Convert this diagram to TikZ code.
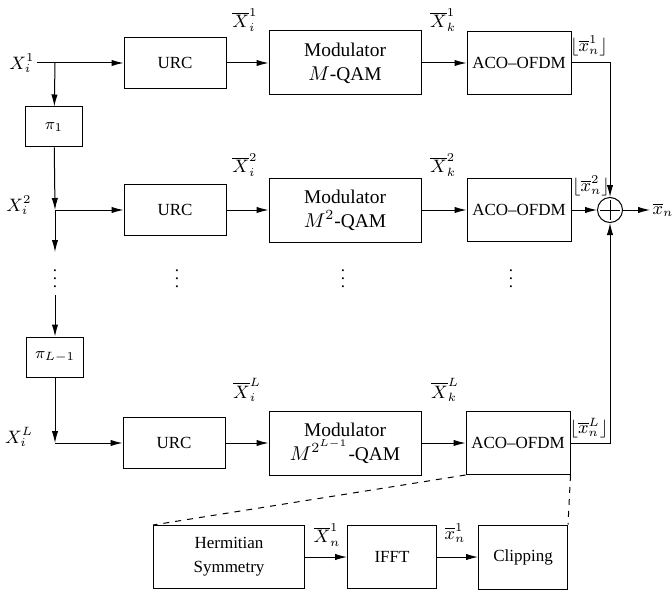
\documentclass[tikz,border=0pt]{standalone}
\usepackage{amsmath,amssymb}
\usepackage{fontspec}
\setmainfont{Liberation Serif}
\usetikzlibrary{arrows.meta}

\begin{document}
\begin{tikzpicture}[x=0.5pt, y=-0.5pt, line width=0.5pt,
	every node/.style={font=\fontsize{8.5}{10}\selectfont},
	>={Latex[length=6pt, width=3.2pt]},
	blk/.style={draw, inner sep=1pt, align=center},
	urcbox/.style={blk, minimum width=51pt, minimum height=25.5pt},
	modbox/.style={blk, minimum width=76pt, minimum height=32pt, font=\fontsize{9.7}{12}\selectfont},
	acobox/.style={blk, minimum width=52pt, minimum height=31.5pt},
	pibox/.style={blk, minimum width=28.5pt, minimum height=20pt},
	lab/.style={font=\fontsize{9}{10}\selectfont, inner sep=1pt}]
	\useasboundingbox (0,0) rectangle (672,593);
	% branches
	\node[urcbox] (urc1) at (175,63) {URC};
	\node[modbox] (mod1) at (345,63) {Modulator\\ $M$-QAM};
	\node[acobox] (aco1) at (519,63) {ACO--OFDM};
	\node[urcbox] (urc2) at (175,210) {URC};
	\node[modbox] (mod2) at (345,210) {Modulator\\ $M^2$-QAM};
	\node[acobox] (aco2) at (519,210) {ACO--OFDM};
	\node[urcbox] (urc3) at (174,443) {URC};
	\node[modbox] (mod3) at (345,443) {Modulator\\ $M^{2^{L-1}}$-QAM};
	\node[acobox] (aco3) at (518,443) {ACO--OFDM};
	\node[pibox] (pi1) at (54,127) {$\pi_1$};
	\node[pibox] (piL) at (55,357) {$\pi_{L-1}$};
	\node[draw, circle, minimum size=12.5pt, inner sep=0pt] (sum) at (610,210) {};
	\draw ([yshift=-1.5pt]sum.north) -- ([yshift=1.5pt]sum.south);
	\draw ([xshift=1.5pt]sum.west) -- ([xshift=-1.5pt]sum.east);
	% input and interleaver chain
	\coordinate (in1) at (37,63);
	\coordinate (br1) at (55,63);
	\coordinate (br2) at (55,210);
	\coordinate (br3) at (55,443);
	\coordinate (cut1) at (55,252);
	\coordinate (cut2) at (55,295);
	\node[lab, anchor=east] at (in1) {$X_i^1$};
	\node[lab] at (19,205) {$X_i^2$};
	\node[lab] at (19,437) {$X_i^L$};
	\draw[->] (in1) -- (urc1);
	\draw[->] (br1) -- (pi1);
	\draw[->] (pi1) -- (br2);
	\draw[->] (br2) -- (urc2);
	\draw[->] (br2) -- (cut1);
	\draw[->] (cut2) -- (piL);
	\draw[->] (piL) -- (br3);
	\draw[->] (br3) -- (urc3);
	\foreach \x/\n in {55/vd0, 177/vd1, 343/vd2, 511/vd3}
		\node (\n) at (\x,273) {$\vdots$};
	% chains
	\draw[->] (urc1) -- (mod1);
	\draw[->] (mod1) -- (aco1);
	\draw[->] (urc2) -- (mod2);
	\draw[->] (mod2) -- (aco2);
	\draw[->] (urc3) -- (mod3);
	\draw[->] (mod3) -- (aco3);
	\node[lab] at (245,20) {$\overline{X}_i^1$};
	\node[lab] at (443,20) {$\overline{X}_k^1$};
	\node[lab] at (245,165) {$\overline{X}_i^2$};
	\node[lab] at (443,165) {$\overline{X}_k^2$};
	\node[lab] at (247,390) {$\overline{X}_i^L$};
	\node[lab] at (445,390) {$\overline{X}_k^L$};
	% sum
	\coordinate (out) at (650,210);
	\draw[->] (aco1) -| (sum);
	\draw[->] (aco2) -- (sum);
	\draw[->] (aco3) -| (sum);
	\draw[->] (sum) -- (out);
	\node[lab, anchor=west] at (out) {$\overline{x}_n$};
	\node[lab] at (589,46) {$\lfloor\overline{x}_n^1\rfloor$};
	\node[lab] at (591,186) {$\lfloor\overline{x}_n^2\rfloor$};
	\node[lab] at (589,428) {$\lfloor\overline{x}_n^L\rfloor$};
	% ACO-OFDM detail
	\node[blk, minimum width=75.5pt, minimum height=31.5pt, font=\fontsize{8.5}{12}\selectfont] (herm) at (229,557) {Hermitian\\ Symmetry};
	\node[blk, minimum width=44.5pt, minimum height=31.5pt] (ifft) at (392,557) {IFFT};
	\node[blk, minimum width=44.5pt, minimum height=32pt] (clip) at (523,557) {Clipping};
	\draw[->] (herm) -- (ifft);
	\draw[->] (ifft) -- (clip);
	\node[lab] at (327,535) {$\overline{X}_n^1$};
	\node[lab] at (455,533) {$\overline{x}_n^1$};
	\draw[dashed] (aco3.south west) -- (herm.north west);
	\draw[dashed] (aco3.south east) -- (clip.north east);
\end{tikzpicture}
\end{document}
